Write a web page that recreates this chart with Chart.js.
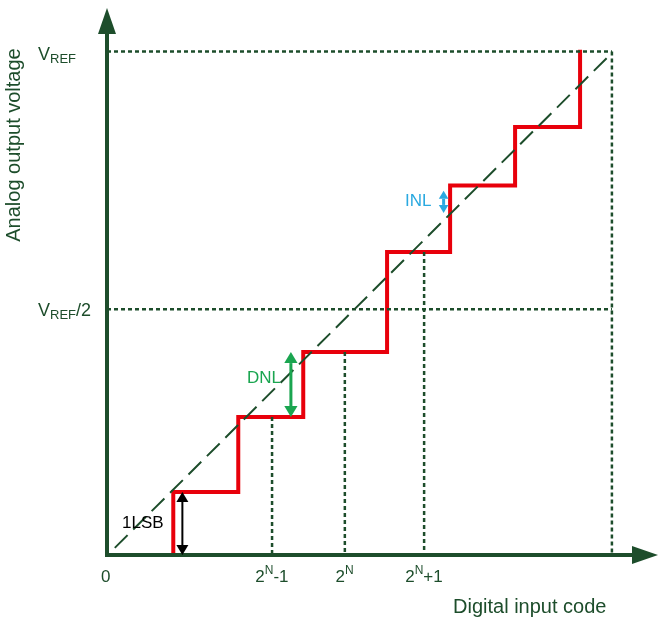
<!DOCTYPE html>
<html>
<head>
<meta charset="UTF-8">
<script src="https://cdn.jsdelivr.net/npm/chart.js@4.4.1/dist/chart.umd.min.js"></script>
<style>
  body { margin: 0; background: #fff; }
  #wrap { width: 665px; height: 623px; }
</style>
</head>
<body>
<div id="wrap"><canvas id="chart" width="665" height="623"></canvas></div>
<script>
// staircase (red), in code / LSB units
const stepX = [1.02, 1.02, 2.02, 2.02, 3.02, 3.02, 4.31, 4.31, 5.28, 5.28, 6.28, 6.28, 7.28, 7.28];
const stepY = [0, 0.97, 0.97, 2.12, 2.12, 3.12, 3.12, 4.66, 4.66, 5.68, 5.68, 6.58, 6.58, 7.77];
// ideal line
const idealX = [0.12, 7.74];
const idealY = [0.11, 7.69];
// reference levels
const vref = 7.74;
const vrefHalf = 3.78;
const fullScaleX = 7.77;
// code ticks with dotted drop lines
const codeX = [2.54, 3.66, 4.88];
const codeTop = [2.12, 3.12, 4.66];
const codeLabels = [['2', 'N', '-1'], ['2', 'N', ''], ['2', 'N', '+1']];

const GREEN = '#1d4d2b';
const pts = (xs, ys) => xs.map((x, i) => ({ x, y: ys[i] }));
const dotted = { borderColor: GREEN, borderWidth: 2.5, borderDash: [4, 3], pointRadius: 0, fill: false };

const datasets = [
  { data: [{ x: 0, y: vref }, { x: fullScaleX, y: vref }], ...dotted },
  { data: [{ x: fullScaleX, y: vref }, { x: fullScaleX, y: 0 }], ...dotted },
  { data: [{ x: 0, y: vrefHalf }, { x: fullScaleX, y: vrefHalf }], ...dotted },
  ...codeX.map((x, i) => ({ data: [{ x, y: codeTop[i] }, { x, y: 0 }], ...dotted })),
  { data: pts(idealX, idealY), borderColor: GREEN, borderWidth: 2, borderDash: [18, 8], pointRadius: 0 },
  { data: pts(stepX, stepY), borderColor: '#e8000b', borderWidth: 4, pointRadius: 0, borderJoinStyle: 'miter' },
];

function arrowHead(ctx, x, y, dx, dy, len, wid, color) {
  const n = Math.hypot(dx, dy); dx /= n; dy /= n;
  ctx.fillStyle = color;
  ctx.beginPath();
  ctx.moveTo(x, y);
  ctx.lineTo(x - dx * len - dy * wid, y - dy * len + dx * wid);
  ctx.lineTo(x - dx * len + dy * wid, y - dy * len - dx * wid);
  ctx.closePath();
  ctx.fill();
}
function dblArrow(ctx, x, y1, y2, color, w, head) {
  ctx.strokeStyle = color; ctx.lineWidth = w;
  ctx.beginPath(); ctx.moveTo(x, y1 + head); ctx.lineTo(x, y2 - head); ctx.stroke();
  arrowHead(ctx, x, y1, 0, -1, head, head * 0.6, color);
  arrowHead(ctx, x, y2, 0, 1, head, head * 0.6, color);
}
function subText(ctx, x, y, base, sub, rest, size, sup) {
  ctx.font = size + 'px "Liberation Sans", Arial';
  ctx.fillText(base, x, y);
  let cx = x + ctx.measureText(base).width;
  ctx.font = Math.round(size * 0.7) + 'px "Liberation Sans", Arial';
  ctx.fillText(sub, cx, sup ? y - size * 0.4 : y + size * 0.25);
  cx += ctx.measureText(sub).width;
  ctx.font = size + 'px "Liberation Sans", Arial';
  ctx.fillText(rest, cx, y);
  return cx + ctx.measureText(rest).width;
}

const overlay = {
  id: 'overlay',
  afterDatasetsDraw(chart) {
    const { ctx, scales: { x, y } } = chart;
    const x0 = x.getPixelForValue(0), y0 = y.getPixelForValue(0);
    ctx.save();
    // axes
    ctx.strokeStyle = GREEN; ctx.lineWidth = 4;
    ctx.beginPath(); ctx.moveTo(x0, y0); ctx.lineTo(x0, 30); ctx.stroke();
    ctx.beginPath(); ctx.moveTo(x0 - 2, y0); ctx.lineTo(635, y0); ctx.stroke();
    arrowHead(ctx, x0, 8, 0, -1, 26, 9, GREEN);
    arrowHead(ctx, 658, y0, 1, 0, 26, 9, GREEN);
    // measurement arrows
    dblArrow(ctx, x.getPixelForValue(1.16), y.getPixelForValue(0.97), y0, '#000', 2, 10);
    dblArrow(ctx, x.getPixelForValue(2.83), y.getPixelForValue(3.12), y.getPixelForValue(2.12), '#1aa550', 3, 11);
    dblArrow(ctx, x.getPixelForValue(5.18), y.getPixelForValue(5.6), y.getPixelForValue(5.26), '#2aa9e0', 3, 8);
    // texts
    ctx.textBaseline = 'middle';
    ctx.fillStyle = '#000';
    ctx.font = '17px "Liberation Sans", Arial';
    ctx.fillText('1LSB', 122, 523);
    ctx.fillStyle = '#1aa550'; ctx.fillText('DNL', 247, 378);
    ctx.fillStyle = '#2aa9e0'; ctx.fillText('INL', 405, 201);
    ctx.fillStyle = GREEN;
    ctx.fillText('0', 101, 577);
    codeX.forEach((cx, i) => {
      ctx.font = '17px "Liberation Sans", Arial';
      const l = codeLabels[i];
      const wTot = ctx.measureText(l[0] + l[2]).width + 9;
      subText(ctx, x.getPixelForValue(cx) - wTot / 2, 577, l[0], l[1], l[2], 17, true);
    });
    subText(ctx, 38, 55, 'V', 'REF', '', 18, false);
    subText(ctx, 38, 311, 'V', 'REF', '/2', 18, false);
    ctx.font = '20px "Liberation Sans", Arial';
    ctx.fillText('Digital input code', 453, 607);
    ctx.save();
    ctx.translate(14, 145); ctx.rotate(-Math.PI / 2);
    ctx.textAlign = 'center';
    ctx.fillText('Analog output voltage', 0, 0);
    ctx.restore();
    ctx.restore();
  }
};

new Chart(document.getElementById('chart'), {
  type: 'line',
  data: { datasets },
  options: {
    responsive: false,
    animation: false,
    layout: { padding: { left: 107, right: 5, top: 10, bottom: 68 } },
    plugins: { legend: { display: false }, tooltip: { enabled: false } },
    scales: {
      x: { type: 'linear', min: 0, max: 8.51, display: false },
      y: { type: 'linear', min: 0, max: 8.38, display: false }
    }
  },
  plugins: [overlay]
});
</script>
</body>
</html>
